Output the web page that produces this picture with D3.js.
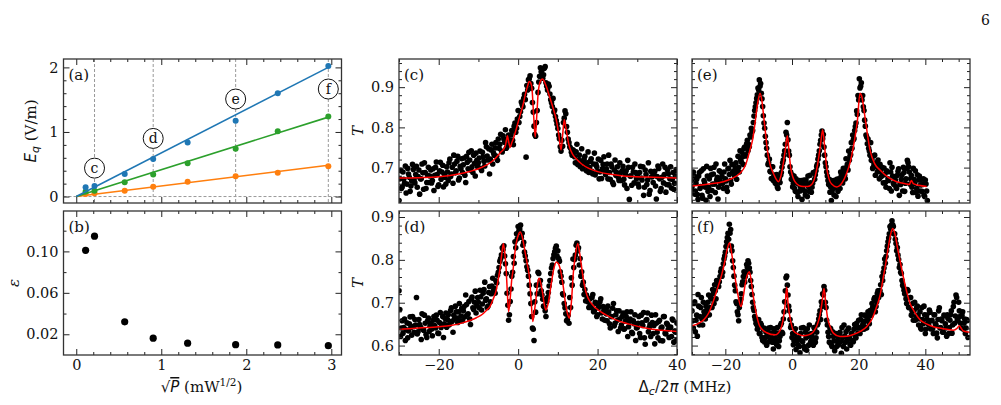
<!DOCTYPE html>
<html>
<head>
<meta charset="utf-8">
<script src="https://cdn.jsdelivr.net/npm/d3@7"></script>
<style>
  body { margin: 0; background: #fff; }
  svg { display: block; }
  text { font-family: "DejaVu Serif", serif; }
</style>
</head>
<body>
<svg id="fig" width="1001" height="405"></svg>
<script>
// ---------- data: panel (a) and (b) ----------
const sqrtP = [0.11, 0.215, 0.57, 0.905, 1.31, 1.875, 2.37, 2.965];
const eqBlue = [0.145, 0.165, 0.35, 0.58, 0.835, 1.175, 1.60, 2.02];
const eqGreen = [0.08, 0.09, 0.22, 0.34, 0.515, 0.74, 1.01, 1.24];
const eqOrange = [0.04, 0.05, 0.09, 0.15, 0.23, 0.315, 0.37, 0.47];
const errBlue = [0.03, 0.03, 0.03, 0.04, 0.03, 0.04, 0.03, 0.03];
const errGreen = [0.02, 0.02, 0.02, 0.03, 0.02, 0.03, 0.03, 0.02];
const errOrange = [0.02, 0.02, 0.02, 0.02, 0.02, 0.02, 0.02, 0.02];
const fitX = [0, 2.965];
const fitBlue = [0, 2.0];
const fitGreen = [0, 1.23];
const fitOrange = [0, 0.485];
const markX = [0.215, 0.905, 1.875, 2.965];
const markY = [0.44, 0.90, 1.51, 1.665];
const markLetters = ['c', 'd', 'e', 'f'];
const eps = [0.101, 0.1147, 0.032, 0.0162, 0.0114, 0.0100, 0.0097, 0.0090];

// ---------- data: transmission spectra (c)-(f) ----------
// two interleaved sweeps per panel, 0.4 MHz step
const sweepStep = 0.4;
const startC = [-30, -29.8], startD = [-30, -29.8], startE = [-30.2, -30.0], startF = [-30, -29.8];
const Tc = [
  .618,.693,.652,.671,.704,.659,.684,.641,.667,.695, .662,.703,.678,.634,.672,.687,.712,.648,.681,.663,
  .694,.668,.643,.701,.683,.657,.713,.689,.652,.676, .702,.668,.721,.684,.661,.709,.692,.728,.674,.697,
  .688,.724,.663,.713,.738,.694,.702,.731,.679,.718, .712,.741,.693,.727,.704,.752,.719,.684,.744,.709,
  .731,.762,.718,.748,.783,.739,.771,.794,.752,.781, .768,.792,.757,.811,.798,.842,.827,.863,.851,.882,
  .726,.893,.921,.909,.862,.803,.778,.842,.913,.948, .942,.931,.951,.902,.908,.883,.861,.872,.843,.817,
  .797,.772,.741,.753,.823,.834,.788,.762,.748,.731, .742,.712,.758,.719,.703,.747,.714,.728,.692,.739,
  .701,.722,.684,.736,.708,.691,.672,.718,.697,.727, .683,.709,.731,.671,.702,.658,.719,.688,.676,.712,
  .668,.703,.657,.692,.718,.621,.679,.701,.662,.688, .681,.652,.703,.669,.631,.694,.658,.712,.643,.677,
  .663,.691,.622,.704,.672,.648,.709,.683,.639,.694, .657,.702,.671,.646,.679,.692
];
const TcB = [
  .672,.648,.689,.661,.637,.698,.676,.654,.708,.669, .683,.651,.694,.672,.709,.646,.688,.663,.701,.679,
  .662,.697,.681,.714,.653,.692,.671,.706,.684,.659, .689,.712,.678,.701,.731,.687,.716,.669,.703,.722,
  .707,.681,.728,.697,.719,.742,.688,.711,.736,.702, .724,.698,.738,.716,.762,.729,.747,.721,.758,.736,
  .749,.728,.771,.758,.741,.779,.763,.748,.771,.758, .781,.768,.803,.788,.821,.812,.839,.857,.872,.869,
  .904,.918,.928,.897,.838,.782,.812,.887,.927,.938, .922,.947,.911,.893,.902,.869,.852,.838,.827,.808,
  .781,.752,.768,.812,.841,.802,.771,.752,.738,.744, .727,.739,.708,.731,.716,.697,.721,.704,.712,.688,
  .716,.691,.709,.682,.702,.721,.689,.673,.708,.692, .697,.672,.688,.709,.663,.694,.681,.702,.668,.687,
  .692,.671,.683,.648,.701,.679,.656,.689,.709,.672, .659,.688,.674,.702,.651,.683,.669,.634,.691,.678,
  .687,.654,.678,.698,.641,.676,.662,.701,.658,.684, .672,.649,.688,.661,.695
];
const Td = [
  .728,.621,.658,.642,.612,.653,.634,.667,.624,.645, .661,.712,.632,.649,.614,.638,.671,.626,.657,.633,
  .652,.623,.668,.641,.659,.628,.677,.648,.619,.663, .643,.672,.651,.688,.631,.662,.679,.654,.698,.669,
  .658,.691,.718,.672,.703,.649,.713,.684,.727,.693, .701,.729,.683,.722,.748,.709,.692,.738,.721,.757,
  .733,.751,.764,.782,.803,.828,.833,.791,.722,.659, .703,.762,.808,.842,.861,.878,.872,.853,.834,.818,
  .798,.776,.741,.698,.641,.612,.678,.721,.768,.752, .718,.692,.681,.703,.724,.752,.781,.803,.819,.832,
  .821,.797,.762,.721,.698,.674,.661,.652,.689,.741, .782,.811,.839,.828,.803,.772,.748,.731,.718,.702,
  .708,.689,.719,.681,.698,.672,.691,.709,.662,.683, .687,.658,.679,.641,.668,.698,.652,.681,.633,.662,
  .648,.676,.639,.668,.621,.657,.679,.628,.651,.612, .642,.668,.619,.653,.677,.603,.661,.632,.649,.671,
  .628,.604,.652,.618,.659,.641,.611,.668,.627,.649, .619,.643,.662,.608,.631,.652
];
const TdB = [
  .684,.641,.629,.662,.637,.618,.651,.642,.668,.631, .648,.627,.661,.643,.674,.636,.652,.619,.664,.645,
  .638,.659,.647,.671,.629,.654,.642,.668,.651,.676, .661,.648,.682,.657,.671,.692,.664,.679,.658,.687,
  .681,.667,.696,.674,.662,.709,.688,.701,.676,.712, .688,.714,.697,.731,.706,.689,.724,.702,.739,.728,
  .722,.746,.771,.797,.812,.824,.809,.768,.694,.672, .732,.771,.792,.828,.849,.868,.881,.862,.841,.809,
  .784,.762,.721,.668,.638,.702,.741,.771,.742,.728, .708,.691,.668,.712,.739,.768,.788,.812,.827,.809,
  .803,.772,.748,.718,.688,.658,.671,.712,.758,.802, .801,.834,.821,.788,.762,.741,.719,.704,.712,.689,
  .694,.712,.679,.701,.668,.688,.702,.676,.691,.659, .674,.692,.651,.668,.687,.646,.672,.659,.681,.641,
  .668,.638,.657,.679,.644,.662,.631,.658,.672,.641, .652,.628,.671,.647,.618,.659,.676,.642,.621,.654,
  .647,.672,.631,.656,.612,.643,.668,.629,.652,.638, .642,.621,.659,.634,.612
];
const Te = [
  .668,.641,.679,
  .642,.671,.621,.688,.653,.631,.697,.662,.619,.679, .651,.628,.682,.659,.701,.638,.669,.622,.692,.661,
  .678,.648,.709,.667,.641,.698,.718,.659,.688,.707, .698,.671,.728,.689,.719,.738,.708,.751,.729,.768,
  .758,.781,.798,.792,.828,.851,.872,.898,.918,.909, .871,.829,.798,.762,.731,.712,.691,.673,.702,.681,
  .661,.683,.648,.672,.681,.701,.719,.742,.788,.812, .741,.702,.671,.652,.679,.641,.662,.628,.668,.651,
  .621,.658,.642,.669,.628,.652,.681,.639,.661,.688, .682,.703,.721,.742,.768,.791,.782,.731,.702,.679,
  .658,.639,.618,.661,.632,.652,.671,.641,.662,.689, .671,.698,.681,.722,.708,.741,.729,.762,.781,.772,
  .802,.841,.879,.921,.902,.868,.851,.818,.781,.759, .748,.731,.718,.698,.709,.681,.702,.719,.672,.691,
  .701,.662,.683,.651,.689,.668,.712,.642,.679,.658, .669,.648,.691,.631,.658,.682,.701,.641,.672,.718,
  .702,.659,.681,.638,.671,.692,.648,.629,.679,.657, .641,.672,.628,.659,.618
];
const TeB = [
  .652,.689,.634,
  .661,.633,.679,.648,.692,.624,.668,.651,.703,.641, .672,.698,.643,.684,.659,.709,.676,.651,.668,.688,
  .661,.689,.672,.651,.697,.683,.668,.708,.691,.679, .712,.689,.701,.742,.714,.727,.748,.732,.759,.742,
  .752,.776,.789,.812,.842,.861,.881,.893,.902,.885, .852,.811,.778,.748,.708,.721,.689,.702,.668,.681,
  .672,.652,.681,.663,.688,.712,.731,.758,.781,.769, .731,.689,.682,.661,.648,.672,.638,.659,.642,.668,
  .648,.669,.632,.658,.679,.641,.662,.651,.688,.671, .692,.708,.731,.758,.781,.772,.751,.712,.689,.668,
  .671,.652,.641,.668,.649,.628,.659,.672,.648,.681, .662,.689,.672,.701,.694,.718,.732,.748,.769,.792,
  .811,.832,.868,.898,.911,.879,.842,.803,.776,.771, .741,.762,.722,.701,.731,.712,.689,.698,.708,.678,
  .681,.699,.663,.692,.672,.648,.689,.701,.661,.677, .652,.681,.697,.659,.671,.642,.688,.661,.698,.712,
  .689,.672,.651,.698,.661,.638,.682,.669,.642,.671, .658,.631,.669,.642
];
const Tf = [
  .681,.641,.702,.659,.622,.692,.668,.712,.648,.679, .662,.681,.701,.672,.712,.689,.721,.742,.709,.748,
  .738,.761,.779,.771,.802,.818,.842,.862,.883,.871, .821,.782,.741,.702,.679,.658,.698,.721,.749,.772,
  .761,.789,.798,.781,.752,.719,.688,.668,.652,.638, .661,.628,.648,.612,.641,.619,.601,.632,.609,.642,
  .618,.592,.631,.608,.642,.598,.621,.652,.628,.679, .728,.762,.718,.681,.642,.619,.602,.628,.591,.612,
  .618,.583,.641,.609,.598,.631,.589,.622,.648,.608, .628,.601,.639,.618,.648,.662,.681,.702,.721,.738,
  .701,.659,.631,.608,.639,.598,.621,.588,.628,.609, .602,.631,.582,.619,.648,.608,.592,.638,.618,.601,
  .628,.609,.649,.618,.641,.659,.628,.672,.648,.638, .658,.641,.679,.651,.672,.698,.681,.712,.691,.722,
  .712,.728,.719,.752,.781,.792,.821,.842,.861,.872, .891,.878,.861,.838,.829,.801,.789,.768,.741,.729,
  .721,.698,.728,.689,.712,.681,.659,.701,.668,.692, .648,.679,.638,.661,.692,.628,.671,.652,.683,.639,
  .659,.628,.672,.648,.618,.681,.641,.662,.631,.671, .651,.622,.663,.642,.672,.629,.691,.652,.718,.661,
  .701,.668,.641,.679,.652,.628,.661,.619
];
const TfB = [
  .658,.698,.632,.671,.719,.648,.689,.662,.701,.672, .692,.671,.718,.689,.709,.731,.698,.728,.752,.739,
  .749,.772,.762,.791,.809,.831,.852,.848,.862,.832, .798,.762,.728,.698,.672,.689,.708,.742,.761,.748,
  .771,.782,.792,.771,.738,.701,.682,.661,.649,.641, .628,.652,.619,.638,.608,.631,.622,.641,.612,.629,
  .608,.639,.618,.602,.629,.611,.648,.631,.662,.702, .758,.741,.692,.661,.648,.628,.611,.639,.618,.602,
  .598,.628,.611,.642,.592,.618,.639,.601,.627,.612, .619,.642,.608,.631,.652,.672,.661,.692,.718,.729,
  .689,.648,.621,.641,.602,.632,.611,.628,.598,.619, .628,.609,.642,.598,.622,.632,.612,.641,.603,.628,
  .612,.638,.621,.652,.629,.642,.661,.638,.652,.671, .642,.668,.659,.682,.671,.689,.708,.679,.702,.728,
  .728,.742,.761,.771,.802,.808,.832,.851,.878,.881, .882,.861,.848,.821,.811,.782,.771,.752,.738,.721,
  .709,.731,.689,.712,.671,.698,.681,.659,.688,.671, .662,.641,.689,.651,.672,.638,.661,.649,.678,.658,
  .639,.672,.651,.629,.661,.688,.642,.658,.631,.669, .641,.672,.628,.659,.681,.648,.701,.669,.712,.658,
  .681,.652,.671,.638,.662,.641,.658
];

// fitted curves [detuning, T]
const fitC = [[-30,.674],[-25,.675],[-20,.677],[-15,.684],[-12,.691],[-10,.697],[-8,.706],[-6,.72],[-4.5,.737],
  [-3.3,.752],[-2.9,.77],[-2.7,.779],[-2.4,.765],[-2.0,.75],[-1.6,.762],[-1.2,.772],[-0.5,.795],[0.5,.831],
  [1.2,.855],[1.7,.877],[2.3,.9],[2.8,.914],[3.2,.91],[3.5,.895],[3.9,.83],[4.3,.776],[4.7,.83],[5.0,.88],
  [5.5,.912],[6.1,.92],[7.0,.904],[7.9,.877],[8.8,.848],[9.6,.819],[10.2,.785],[10.8,.744],[11.2,.78],
  [11.6,.819],[12.0,.80],[12.8,.756],[13.6,.735],[14.5,.723],[16,.709],[17.8,.698],[20,.69],[22.8,.684],
  [26,.68],[28.7,.678],[34,.676],[40,.674]];
const fitD = [[-30,.638],[-25,.641],[-20,.644],[-17,.647],[-14,.653],[-12,.659],[-10.5,.665],[-9,.673],[-8,.682],
  [-7.1,.691],[-6.3,.708],[-5.5,.73],[-5,.755],[-4.5,.784],[-4.1,.815],[-3.7,.838],[-3.3,.81],[-3.0,.775],
  [-2.7,.72],[-2.4,.679],[-2.0,.71],[-1.6,.755],[-1.3,.775],[-0.9,.81],[-0.5,.838],[0,.857],[0.5,.865],
  [1.0,.855],[1.6,.826],[2.3,.79],[2.9,.754],[3.3,.70],[3.7,.656],[4.1,.68],[4.5,.71],[4.9,.745],[5.3,.757],
  [5.7,.745],[6.2,.72],[6.6,.695],[7.0,.683],[7.6,.70],[8.3,.742],[9.0,.78],[9.6,.795],[10.2,.79],[10.8,.77],
  [11.4,.735],[11.9,.70],[12.4,.675],[12.9,.664],[13.4,.70],[13.9,.77],[14.4,.81],[15.0,.838],[15.5,.815],
  [16.1,.775],[16.7,.74],[17.3,.718],[18.3,.70],[19.6,.687],[22,.672],[24.6,.660],[28,.65],[33,.639],[40,.633]];
const fitE = [[-30,.654],[-25,.659],[-20.6,.665],[-18,.673],[-15.6,.686],[-14,.705],[-12.6,.744],[-11.8,.77],
  [-11.1,.81],[-10.4,.855],[-9.6,.885],[-9.1,.87],[-8.6,.835],[-8.0,.79],[-7.4,.744],[-6.5,.705],[-5.6,.686],
  [-4.8,.672],[-4.1,.665],[-3.3,.68],[-2.6,.711],[-2.0,.745],[-1.4,.779],[-0.9,.74],[-0.4,.70],[0.2,.678],
  [0.9,.665],[2,.656],[3.4,.653],[4.7,.653],[5.9,.658],[7.0,.68],[7.9,.719],[8.6,.76],[9.2,.794],[9.8,.75],
  [10.4,.70],[11.1,.672],[11.9,.659],[13.4,.652],[15,.662],[16.4,.686],[17.5,.715],[18.4,.751],[19.0,.78],
  [19.6,.815],[20.4,.885],[21.0,.875],[21.6,.843],[22.5,.79],[23.4,.744],[24.8,.71],[26.4,.694],[29,.675],
  [31.4,.665],[34,.66],[35.2,.658],[35.8,.668],[36.4,.66],[38,.656],[40.4,.653]];
const fitF = [[-30,.646],[-28,.652],[-26.5,.660],[-25,.676],[-23.5,.706],[-22.2,.737],[-21,.768],[-20.2,.795],
  [-19.5,.823],[-18.7,.840],[-18.1,.815],[-17.5,.784],[-16.9,.75],[-16.3,.722],[-15.3,.691],[-14.6,.715],
  [-14,.745],[-13.4,.765],[-12.8,.772],[-12.2,.75],[-11.6,.714],[-10.6,.67],[-9.6,.644],[-7.6,.630],[-5.1,.625],
  [-3.6,.635],[-2.8,.655],[-2.4,.675],[-2.0,.70],[-1.6,.736],[-1.2,.70],[-0.8,.675],[-0.2,.65],[0.4,.635],
  [2,.626],[3.4,.623],[5,.625],[6.4,.632],[7.5,.647],[8.4,.671],[9.0,.70],[9.6,.733],[10.1,.70],[10.6,.668],
  [11.4,.645],[12.4,.629],[14.4,.621],[16.5,.622],[18.4,.626],[20.5,.633],[22.4,.644],[24,.662],[25.4,.691],
  [26.5,.72],[27.4,.760],[28.2,.795],[28.9,.830],[29.6,.86],[30.2,.873],[30.9,.86],[31.6,.830],[32.5,.795],
  [33.4,.76],[34.4,.726],[35.4,.699],[36.8,.678],[38.4,.66],[40.5,.65],[42.4,.644],[45,.64],[48.4,.636],
  [49.5,.64],[50.2,.646],[50.8,.64],[51.4,.634],[53.4,.631]];

// tick values
const ticksP = [0, 1, 2, 3];
const ticksEq = [0, 1, 2];
const ticksEps = [0.02, 0.06, 0.10];
const ticksT = [0.6, 0.7, 0.8, 0.9];
const ticksDet = [-20, 0, 20, 40];

// ---------- layout ----------
const W = 278, H = 144;
const colX = [63.5, 399, 692];
const rowY = [59, 211];
const svg = d3.select('#fig');
const tickFont = 14.5;

function makePanel(id, x0, y0, xd, yd) {
  const g = svg.append('g').attr('transform', `translate(${x0},${y0})`);
  const x = d3.scaleLinear().domain(xd).range([0, W]);
  const y = d3.scaleLinear().domain(yd).range([H, 0]);
  g.append('clipPath').attr('id', 'clip-' + id)
    .append('rect').attr('width', W).attr('height', H);
  const plot = g.append('g').attr('clip-path', `url(#clip-${id})`);
  return { g, plot, x, y };
}

function frame(p, o) {
  const g = p.g;
  const inside = (sc, vals) => {
    const [a, b] = sc.domain();
    return vals.filter(v => v >= Math.min(a, b) - 1e-9 && v <= Math.max(a, b) + 1e-9);
  };
  const notMajor = (all, maj) => all.filter(v => !maj.some(m => Math.abs(m - v) < 1e-9));
  const sides = [
    [d3.axisBottom, p.x, `translate(0,${H})`, o.xMaj, o.xMin, o.xFmt],
    [d3.axisTop, p.x, null, o.xMaj, o.xMin, null],
    [d3.axisLeft, p.y, null, o.yMaj, o.yMin, o.yFmt],
    [d3.axisRight, p.y, `translate(${W},0)`, o.yMaj, o.yMin, null]
  ];
  sides.forEach(([axis, sc, tr, maj, min, fmt]) => {
    const majIn = inside(sc, maj);
    const a = g.append('g');
    if (tr) a.attr('transform', tr);
    a.call(axis(sc).tickValues(majIn).tickSize(-6).tickSizeOuter(0).tickPadding(5)
      .tickFormat(fmt || (() => '')));
    a.attr('font-family', '"DejaVu Serif", serif').attr('font-size', tickFont);
    a.selectAll('.tick text').attr('fill', '#111');
    const b = g.append('g');
    if (tr) b.attr('transform', tr);
    b.call(axis(sc).tickValues(notMajor(inside(sc, min), majIn)).tickSize(-3).tickSizeOuter(0).tickFormat(''));
  });
  g.selectAll('.domain').remove();
  g.selectAll('.tick line').attr('stroke', '#222').attr('stroke-width', 1);
  g.append('rect').attr('width', W).attr('height', H)
    .attr('fill', 'none').attr('stroke', '#333').attr('stroke-width', 1.3);
}

function panelLabel(p, s) {
  p.g.append('text').attr('x', 5).attr('y', 21)
    .attr('font-size', 15).attr('fill', '#111').text(s);
}

const minorP = d3.range(-0.2, 3.21, 0.2).map(v => +v.toFixed(2));

// ---------- (a) ----------
const pa = makePanel('a', colX[0], rowY[0], [-0.15, 3.12], [-0.1, 2.13]);
pa.plot.append('line')
  .attr('x1', 0).attr('x2', W).attr('y1', pa.y(0)).attr('y2', pa.y(0))
  .attr('stroke', '#999').attr('stroke-width', 1).attr('stroke-dasharray', '3,2');
pa.plot.selectAll('.vmark').data(markX).join('line')
  .attr('x1', d => pa.x(d)).attr('x2', d => pa.x(d)).attr('y1', 0).attr('y2', H)
  .attr('stroke', '#999').attr('stroke-width', 1).attr('stroke-dasharray', '3,2');

const seriesA = [
  { vals: eqOrange, err: errOrange, fit: fitOrange, color: '#ff7f0e' },
  { vals: eqGreen, err: errGreen, fit: fitGreen, color: '#2ca02c' },
  { vals: eqBlue, err: errBlue, fit: fitBlue, color: '#1f77b4' }
];
seriesA.forEach(s => {
  pa.plot.append('line')
    .attr('x1', pa.x(fitX[0])).attr('y1', pa.y(s.fit[0]))
    .attr('x2', pa.x(fitX[1])).attr('y2', pa.y(s.fit[1]))
    .attr('stroke', s.color).attr('stroke-width', 1.6);
  const pts = sqrtP.map((v, i) => ({ x: v, y: s.vals[i], e: s.err[i] }));
  pa.plot.selectAll(null).data(pts).join('line')
    .attr('x1', d => pa.x(d.x)).attr('x2', d => pa.x(d.x))
    .attr('y1', d => pa.y(d.y - d.e)).attr('y2', d => pa.y(d.y + d.e))
    .attr('stroke', s.color).attr('stroke-width', 1.4);
  pa.plot.selectAll(null).data(pts).join('circle')
    .attr('cx', d => pa.x(d.x)).attr('cy', d => pa.y(d.y)).attr('r', 3)
    .attr('fill', s.color);
});
markX.forEach((m, i) => {
  pa.plot.append('circle').attr('cx', pa.x(m)).attr('cy', pa.y(markY[i])).attr('r', 10)
    .attr('fill', '#fff').attr('stroke', '#111').attr('stroke-width', 1);
  pa.plot.append('text').attr('x', pa.x(m)).attr('y', pa.y(markY[i]) + 4.5)
    .attr('text-anchor', 'middle').attr('font-size', 14).attr('fill', '#111').text(markLetters[i]);
});
frame(pa, { xMaj: ticksP, xMin: minorP, yMaj: ticksEq, yMin: d3.range(0, 2.01, 0.2).map(v => +v.toFixed(2)),
  xFmt: null, yFmt: d3.format('d') });
panelLabel(pa, '(a)');

// ---------- (b) ----------
const pb = makePanel('b', colX[0], rowY[1], [-0.15, 3.12], [0, 0.139]);
pb.plot.selectAll('circle').data(sqrtP.map((v, i) => [v, eps[i]])).join('circle')
  .attr('cx', d => pb.x(d[0])).attr('cy', d => pb.y(d[1])).attr('r', 3.6).attr('fill', '#000');
frame(pb, { xMaj: ticksP, xMin: minorP, yMaj: ticksEps, yMin: [0.04, 0.08, 0.12],
  xFmt: d3.format('d'), yFmt: d3.format('.2f') });
panelLabel(pb, '(b)');

// ---------- spectra ----------
const detMinorCD = [-30, -10, 10, 30];
const detMinorEF = d3.range(-30, 51, 5);
const minorT = d3.range(0.58, 0.97, 0.02).map(v => +v.toFixed(2));
const fitLine = (p) => d3.line().x(d => p.x(d[0])).y(d => p.y(d[1])).curve(d3.curveMonotoneX);

function spectrum(p, valsA, valsB, starts, fit) {
  const pts = valsA.map((v, i) => [starts[0] + i * sweepStep, v])
    .concat(valsB.map((v, i) => [starts[1] + i * sweepStep, v]));
  p.plot.selectAll('circle').data(pts).join('circle')
    .attr('cx', d => p.x(d[0])).attr('cy', d => p.y(d[1])).attr('r', 2.8).attr('fill', '#000');
  p.plot.append('path').attr('d', fitLine(p)(fit))
    .attr('fill', 'none').attr('stroke', '#ff0000').attr('stroke-width', 1.5);
}

const pc = makePanel('c', colX[1], rowY[0], [-30, 40], [0.612, 0.970]);
spectrum(pc, Tc, TcB, startC, fitC);
frame(pc, { xMaj: ticksDet, xMin: detMinorCD, yMaj: ticksT, yMin: minorT, xFmt: null, yFmt: d3.format('.1f') });
panelLabel(pc, '(c)');

const pd = makePanel('d', colX[1], rowY[1], [-30, 40], [0.578, 0.914]);
spectrum(pd, Td, TdB, startD, fitD);
frame(pd, { xMaj: ticksDet, xMin: detMinorCD, yMaj: ticksT, yMin: minorT, xFmt: d3.format('d'), yFmt: d3.format('.1f') });
panelLabel(pd, '(d)');

const pe = makePanel('e', colX[2], rowY[0], [-30, 53.4], [0.612, 0.970]);
spectrum(pe, Te, TeB, startE, fitE);
frame(pe, { xMaj: ticksDet, xMin: detMinorEF, yMaj: ticksT, yMin: minorT, xFmt: null, yFmt: null });
panelLabel(pe, '(e)');

const pf = makePanel('f', colX[2], rowY[1], [-30, 53.4], [0.578, 0.914]);
spectrum(pf, Tf, TfB, startF, fitF);
frame(pf, { xMaj: ticksDet, xMin: detMinorEF, yMaj: ticksT, yMin: minorT, xFmt: d3.format('d'), yFmt: null });
panelLabel(pf, '(f)');

// ---------- axis titles ----------
const sans = '"DejaVu Sans", sans-serif';
const serif = '"DejaVu Serif", serif';

const yl1 = svg.append('text').attr('transform', 'translate(36,131) rotate(-90)')
  .attr('text-anchor', 'middle').attr('font-size', 15).attr('fill', '#111');
yl1.append('tspan').attr('font-family', sans).attr('font-style', 'italic').text('E');
yl1.append('tspan').attr('font-family', sans).attr('font-style', 'italic').attr('font-size', 11)
  .attr('dy', 3).text('q');
yl1.append('tspan').attr('font-family', serif).attr('dy', -3).text(' (V/m)');

svg.append('text').attr('transform', 'translate(19,283) rotate(-90)')
  .attr('text-anchor', 'middle').attr('font-size', 15).attr('font-family', sans)
  .attr('font-style', 'italic').attr('fill', '#111').text('ε');

[131, 283].forEach(cy => {
  svg.append('text').attr('transform', `translate(363,${cy}) rotate(-90)`)
    .attr('text-anchor', 'middle').attr('font-size', 15).attr('font-family', sans)
    .attr('font-style', 'italic').attr('fill', '#111').text('T');
});

const xl1 = svg.append('text').attr('x', 201.5).attr('y', 392)
  .attr('text-anchor', 'middle').attr('font-size', 15).attr('fill', '#111');
xl1.append('tspan').attr('font-family', sans).text('√');
xl1.append('tspan').attr('font-family', sans).attr('font-style', 'italic')
  .style('text-decoration', 'overline').text('P');
xl1.append('tspan').attr('font-family', serif).text(' (mW');
xl1.append('tspan').attr('font-family', serif).attr('font-size', 10.5).attr('dy', -6).text('1/2');
xl1.append('tspan').attr('font-family', serif).attr('dy', 6).text(')');

const xl2 = svg.append('text').attr('x', 685).attr('y', 392)
  .attr('text-anchor', 'middle').attr('font-size', 15).attr('fill', '#111');
xl2.append('tspan').attr('font-family', sans).text('Δ');
xl2.append('tspan').attr('font-family', sans).attr('font-style', 'italic').attr('font-size', 11)
  .attr('dy', 3).text('c');
xl2.append('tspan').attr('font-family', sans).attr('dy', -3).text('/2');
xl2.append('tspan').attr('font-family', sans).attr('font-style', 'italic').text('π');
xl2.append('tspan').attr('font-family', serif).text(' (MHz)');

svg.append('text').attr('x', 990).attr('y', 25).attr('text-anchor', 'end')
  .attr('font-size', 14).attr('fill', '#111').text('6');
</script>
</body>
</html>
